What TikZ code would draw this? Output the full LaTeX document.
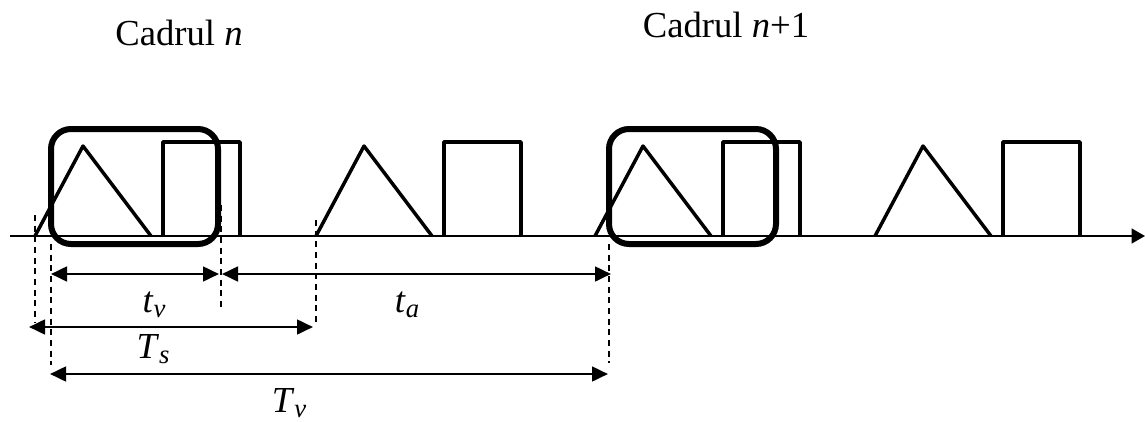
\documentclass[tikz,border=0pt]{standalone}
\usepackage{fontspec}
\setmainfont{Liberation Serif}
\usetikzlibrary{arrows.meta}
\newcommand{\lblsub}[2]{\textit{#1}\raisebox{-0.3ex}{\fontsize{20}{20}\selectfont\textit{#2}}}

\begin{document}
\begin{tikzpicture}[x=0.75pt,y=-0.75pt,
    wave/.style={line width=2.6pt, line join=round},
    framebox/.style={line width=4.5pt, rounded corners=15pt},
    guide/.style={line width=1pt, dash pattern=on 4.5pt off 3.5pt},
    span/.style={line width=2pt, {Triangle[length=12pt,width=11pt]}-{Triangle[length=12pt,width=11pt]}},
    lbl/.style={font=\fontsize{27.5}{33}\selectfont, inner sep=0pt, anchor=base}]
    \useasboundingbox (0,0) rectangle (1145,421);
    % Time axis
    \coordinate (axstart) at (10,236);
    \coordinate (axend) at (1145,236);
    \draw[line width=1.6pt, -{Triangle[length=10pt,width=11pt]}] (axstart) -- (axend);

    % Video (triangle) and audio (rectangle) pulses
    \foreach \p in {83,364,643,923} {
        \draw[wave] (\p-48,236) -- (\p,146) -- (\p+68,236);
        \draw[wave] (\p+80,236) -- (\p+80,142) -- (\p+157,142) -- (\p+157,236);
    }

    % Frame boxes
    \draw[framebox] (51,129) rectangle (218,244);
    \draw[framebox] (609,129) rectangle (776,244);

    % Guides
    \draw[guide] (35,215) -- (35,323);
    \draw[guide] (51,244) -- (51,365);
    \draw[guide] (221,205) -- (221,310);
    \draw[guide] (316,220) -- (316,322);
    \draw[guide] (609,244) -- (609,363);

    % Intervals
    \coordinate (tvl) at (51,274);  \coordinate (tvr) at (219,274);
    \coordinate (tal) at (222,274); \coordinate (tar) at (611,274);
    \coordinate (tsl) at (29,327);  \coordinate (tsr) at (313,327);
    \coordinate (Tvl) at (50,374);  \coordinate (Tvr) at (608,374);
    \draw[span] (tvl) -- (tvr);
    \draw[span] (tal) -- (tar);
    \draw[span] (tsl) -- (tsr);
    \draw[span] (Tvl) -- (Tvr);

    % Labels
    \node[lbl] (cadrun) at (179,45) {Cadrul \textit{n}};
    \node[lbl] (cadrunext) at (726,37) {Cadrul \textit{n}+1};
    \node[lbl] (tv) at (154,312) {\lblsub{t}{v}};
    \node[lbl] (ta) at (407,312) {\lblsub{t}{a}};
    \node[lbl] (Ts) at (153,358) {\lblsub{T}{s}};
    \node[lbl] (Tv) at (289,412) {\lblsub{T}{v}};
\end{tikzpicture}
\end{document}
